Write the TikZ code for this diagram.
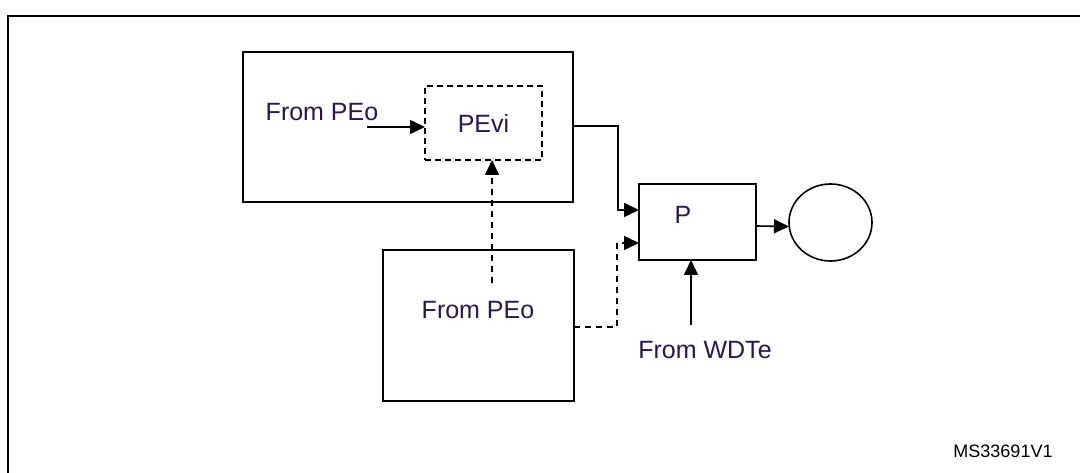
\documentclass[tikz,border=0pt]{standalone}
\usepackage{fontspec}
\setmainfont{Liberation Sans}
\usetikzlibrary{positioning,arrows.meta,shapes.geometric,calc}
\definecolor{labelink}{RGB}{42,22,80}
\tikzset{
  blockbox/.style={draw=black,line width=1.6pt,rectangle,inner sep=0pt,outer sep=0pt},
  dashbox/.style={blockbox,dashed,dash pattern=on 6pt off 4pt},
  label text/.style={text=labelink,font=\fontsize{25}{28}\selectfont,inner sep=0pt},
  wire/.style={line width=1.6pt,draw=black},
  dwire/.style={wire,dash pattern=on 6pt off 5pt},
  tip/.style={-{Triangle[length=15pt,width=14pt]}}
}

\begin{document}
\begin{tikzpicture}[x=1pt,y=-1pt]
  \useasboundingbox (0,0) rectangle (1080,473);
  % frame
  \draw[line width=1.6pt] (8,473) -- (8,16) -- (1080,16);
  % blocks
  \node[blockbox,minimum width=330pt,minimum height=150pt] (srcbox) at (408,127) {};
  \node[dashbox,minimum width=117pt,minimum height=74pt,label text] (pevi) at (483.5,123) {PEvi};
  \node[label text] (fromtop) at (322,112) {From PEo};
  \node[blockbox,minimum width=191pt,minimum height=151pt] (lowbox) at (478.5,325.5) {};
  \node[label text] (fromlow) at (478,310) {From PEo};
  \node[blockbox,minimum width=117pt,minimum height=76pt] (pbox) at (697.5,222) {};
  \node[label text] (plabel) at (683,215) {P};
  \node[draw,line width=1.6pt,ellipse,inner sep=0pt,outer sep=0pt,
        minimum width=83pt,minimum height=77pt] (outcirc) at (830.5,222.5) {};
  \node[label text] (fromwdt) at (705,350) {From WDTe};
  \node[font=\fontsize{18}{20}\selectfont,inner sep=0pt] (figid) at (1003,451) {MS33691V1};
  % connectors
  \coordinate (inA) at (367,127);
  \draw[wire,tip] (inA) -- (inA -| pevi.west);
  \coordinate (upB) at (492,283);
  \draw[dwire,tip] (upB) -- (upB |- pevi.south);
  \coordinate (topout) at ($(srcbox.east)+(0,-1)$);
  \draw[wire,tip] (topout) -- ++(45,0) |- ($(pbox.west)+(0,-12)$);
  \coordinate (lowout) at ($(lowbox.east)+(0,1.5)$);
  \draw[dwire] (lowout) -- ++(43,0) |- ($(pbox.west)+(-12,21)$);
  \draw[wire,tip] ($(pbox.west)+(-12,21)$) -- ($(pbox.west)+(0,21)$);
  \draw[wire,tip] ($(pbox.east)+(0,4)$) -- ($(outcirc.west)+(0,4)$);
  \coordinate (wdtin) at (691,325);
  \draw[wire,tip] (wdtin) -- (wdtin |- pbox.south);
\end{tikzpicture}
\end{document}
